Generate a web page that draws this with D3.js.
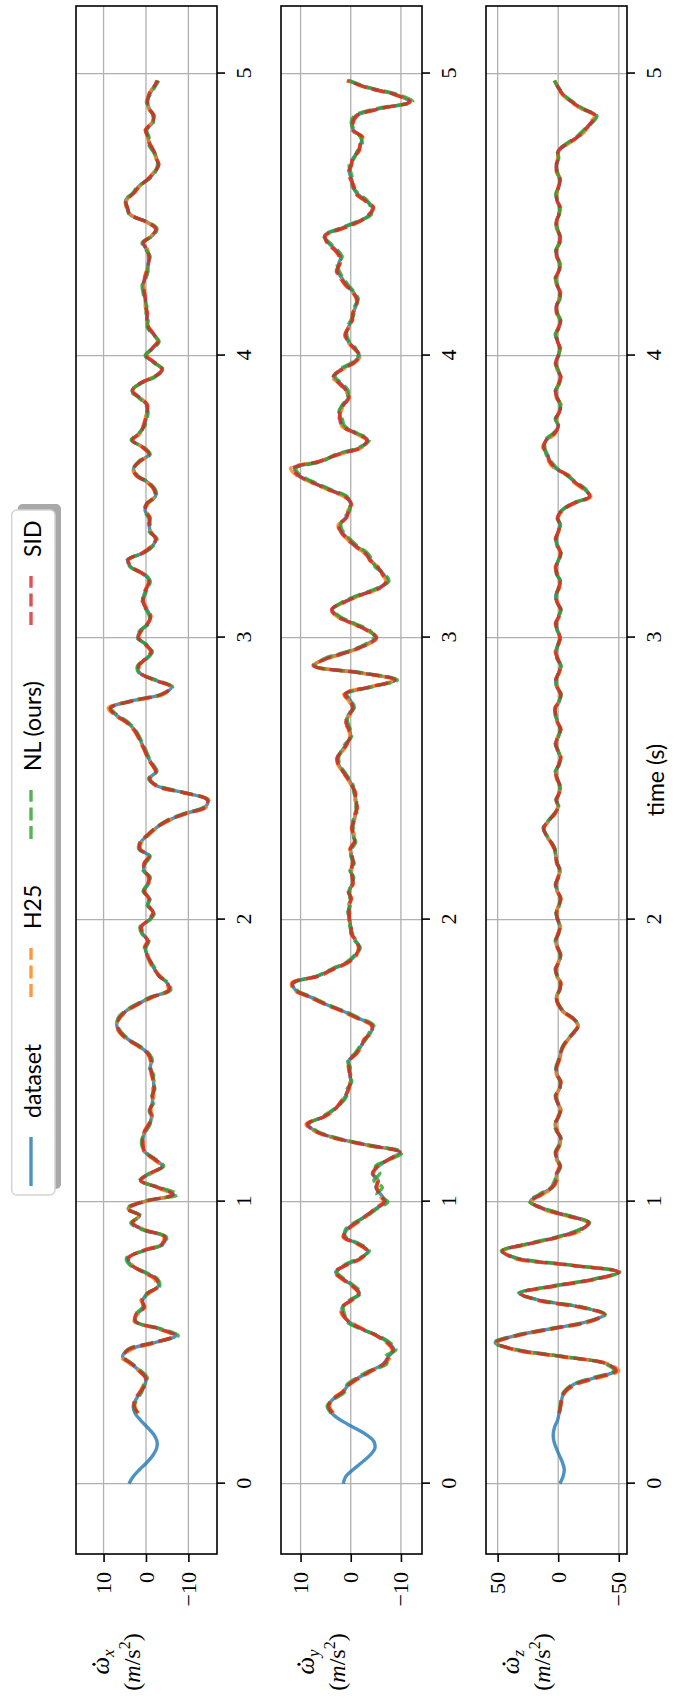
<!DOCTYPE html>
<html>
<head>
<meta charset="utf-8">
<script src="https://cdn.jsdelivr.net/npm/d3@7"></script>
<style>
  body { margin: 0; background: #fff; }
</style>
</head>
<body>
<div id="chart"></div>
<script>
// sampling of the recorded signals
const dt = 0.025;           // seconds between samples
const predStart = 10;       // model predictions begin at sample 10 (t = 0.25 s)
const timeTicks = [0, 1, 2, 3, 4, 5];

const seriesNames = ["dataset", "H25", "NL (ours)", "SID"];
const seriesColors = ["#1f77b4", "#ff7f0e", "#2ca02c", "#d62728"];

// ---- panel 1 : omega_dot x ----
const dataset_x = [4.0,3.0,1.5,-0.2,-1.6,-2.5,-2.6,-1.8,-0.3,1.3,
 2.6,3.0,2.3,1.2,0.3,0.0,1.5,3.5,5.5,4.0,
 -2.0,-7.0,-3.0,2.6,2.2,0.5,0.8,-0.5,-2.9,-2.5,
 0.5,3.5,4.3,0.8,-4.0,-4.5,0.5,3.3,1.5,4.2,
 0.5,-6.5,-3.0,1.2,-1.0,-3.9,-2.0,0.2,0.8,0.7,
 0.2,-0.8,-1.3,-1.0,-1.5,-1.6,-1.8,-1.8,-1.5,-1.0,
 -1.3,-0.5,1.5,4.2,6.0,6.9,6.4,4.8,2.0,-1.3,
 -5.5,-5.0,-3.2,-2.0,-1.0,-0.3,0.2,-0.5,0.8,1.2,
 -0.8,-1.8,-0.5,-0.8,0.5,-0.5,-0.8,0.5,0.3,-0.8,
 1.5,1.2,-0.5,-2.4,-5.0,-9.0,-14.0,-14.5,-9.0,-2.5,
 -0.8,-2.4,-1.5,-0.5,0.2,1.0,1.8,2.8,4.5,7.0,
 8.5,3.5,-4.0,-6.0,-2.0,1.5,1.8,0.0,-1.3,0.0,
 1.9,1.2,-0.5,-1.0,-0.2,0.7,0.5,-0.2,-0.8,0.5,
 3.5,4.3,0.7,-1.5,-2.4,-1.0,-0.8,-0.8,0.2,-0.3,
 -2.2,-2.0,-0.5,2.2,2.9,1.5,-0.8,0.7,3.3,1.5,
 0.5,0.0,-0.3,-0.2,1.5,3.3,1.5,-2.0,-3.9,-2.0,
 0.0,-1.5,-2.9,-1.8,-0.5,-0.3,-0.2,0.0,0.2,0.5,
 0.7,0.2,-0.3,-0.5,-0.8,-0.2,0.7,-1.5,-2.4,0.0,
 3.8,4.5,4.8,3.0,1.7,-0.5,-2.0,-2.9,-2.5,-1.8,
 -0.8,-0.5,0.0,-1.5,-1.8,-0.8,-0.3,-0.8,-1.8,-2.8];

const h25_x = [2.0,2.6,2.4,1.5,0.6,0.2,1.8,3.8,5.8,3.5,
 -2.5,-6.5,-2.5,2.8,2.0,0.2,1.2,-0.8,-2.6,-2.0,
 0.8,3.2,4.0,1.2,-3.6,-4.2,0.2,3.0,1.9,4.0,
 0.2,-6.0,-2.6,1.0,-1.3,-3.6,-1.7,0.4,0.6,0.5,
 0.4,-0.6,-1.5,-1.2,-1.3,-1.9,-1.6,-2.0,-1.2,-1.2,
 -1.0,-0.3,1.8,4.5,6.3,7.1,6.2,4.5,1.7,-1.6,
 -5.2,-4.8,-3.4,-1.8,-0.8,-0.5,0.4,-0.3,0.6,1.0,
 -0.6,-1.6,-0.7,-0.6,0.3,-0.7,-0.6,0.3,0.5,-0.6,
 1.3,1.0,-0.7,-2.6,-5.3,-9.4,-14.3,-14.8,-8.6,-2.2,
 -1.0,-2.2,-1.3,-0.3,0.4,1.2,2.0,3.1,4.8,7.4,
 8.9,3.0,-4.3,-5.7,-1.7,1.3,1.6,0.2,-1.1,0.2,
 1.7,1.0,-0.3,-1.2,-0.4,0.5,0.7,0.0,-0.6,0.7,
 3.3,4.1,0.9,-1.3,-2.2,-1.2,-0.6,-1.0,0.0,-0.5,
 -2.0,-1.8,-0.3,2.4,3.1,1.3,-0.6,0.9,3.1,1.3,
 0.7,0.2,-0.1,-0.4,1.3,3.1,1.7,-1.8,-3.7,-2.2,
 -0.2,-1.3,-2.7,-2.0,-0.7,-0.1,-0.4,0.2,0.0,0.3,
 0.5,0.4,-0.1,-0.7,-0.6,-0.4,0.5,-1.3,-2.2,0.2,
 3.6,4.7,4.6,2.8,1.5,-0.3,-1.8,-3.1,-2.3,-2.0,
 -1.0,-0.3,0.2,-1.3,-2.0,-0.6,-0.5,-0.6,-1.6,-2.6];

const nl_x = [2.3,2.8,2.0,1.0,0.5,-0.3,1.2,3.2,5.2,4.4,
 -1.5,-7.6,-3.4,2.4,2.5,0.8,0.5,-0.2,-3.2,-2.8,
 0.2,3.8,4.6,0.5,-4.3,-4.8,0.8,3.6,1.2,4.6,
 0.9,-7.5,-3.4,1.5,-0.7,-4.2,-2.3,0.0,1.0,0.9,
 0.0,-1.0,-1.1,-0.8,-1.8,-1.4,-2.1,-1.6,-1.8,-0.8,
 -1.5,-0.7,1.3,4.0,5.8,6.7,6.6,5.0,2.3,-1.0,
 -5.8,-5.3,-3.0,-2.2,-1.2,-0.1,0.0,-0.7,1.0,1.4,
 -1.0,-2.0,-0.3,-1.0,0.7,-0.3,-1.0,0.7,0.1,-1.0,
 1.7,1.4,-0.3,-2.2,-4.7,-8.7,-13.7,-14.6,-9.3,-2.8,
 -0.6,-2.6,-1.7,-0.7,0.0,0.8,1.6,2.6,4.2,6.7,
 8.2,3.8,-3.7,-6.3,-2.3,1.7,2.0,-0.2,-1.5,-0.2,
 2.1,1.4,-0.7,-0.8,0.0,0.9,0.3,-0.4,-1.0,0.3,
 3.7,4.5,0.5,-1.7,-2.6,-0.8,-1.0,-0.6,0.4,-0.1,
 -2.4,-2.2,-0.7,2.0,2.7,1.7,-1.0,0.5,3.5,1.7,
 0.3,-0.2,-0.5,0.0,1.7,3.5,1.3,-2.2,-4.1,-1.8,
 0.2,-1.7,-3.1,-1.6,-0.3,-0.5,0.0,-0.2,0.4,0.7,
 0.9,0.0,-0.5,-0.3,-1.0,0.0,0.9,-1.7,-2.6,-0.2,
 4.0,4.3,5.0,3.2,1.9,-0.7,-2.2,-2.7,-2.7,-1.6,
 -0.6,-0.7,-0.2,-1.7,-1.6,-1.0,-0.1,-1.0,-2.0,-3.0];

const sid_x = [1.8,2.8,2.6,1.4,0.2,0.1,1.6,3.4,5.4,4.2,
 -1.8,-6.8,-2.8,2.4,2.4,0.4,0.9,-0.4,-3.0,-2.4,
 0.6,3.4,4.1,0.9,-3.8,-4.4,0.4,3.2,1.6,4.4,
 0.6,-6.3,-2.8,1.3,-0.9,-3.8,-2.1,0.3,0.7,0.8,
 0.3,-0.7,-1.4,-0.9,-1.6,-1.5,-1.9,-1.7,-1.4,-1.1,
 -1.2,-0.4,1.6,4.3,6.1,6.8,6.3,4.7,1.9,-1.4,
 -5.4,-5.1,-3.1,-1.9,-1.1,-0.2,0.3,-0.4,0.7,1.1,
 -0.7,-1.7,-0.6,-0.7,0.4,-0.4,-0.7,0.4,0.4,-0.7,
 1.4,1.3,-0.4,-2.3,-4.9,-9.2,-14.2,-14.4,-8.8,-2.4,
 -0.9,-2.3,-1.4,-0.4,0.3,1.1,1.9,2.9,4.6,7.2,
 8.4,3.3,-3.9,-5.9,-1.9,1.4,1.7,0.1,-1.2,0.1,
 1.8,1.1,-0.4,-1.1,-0.1,0.6,0.6,-0.1,-0.7,0.6,
 3.4,4.2,0.8,-1.4,-2.3,-1.1,-0.7,-0.9,0.1,-0.2,
 -2.1,-1.9,-0.4,2.3,3.0,1.4,-0.7,0.8,3.2,1.4,
 0.6,0.1,-0.2,-0.3,1.4,3.2,1.6,-1.9,-3.8,-2.1,
 -0.1,-1.4,-2.8,-1.9,-0.6,-0.2,-0.3,0.1,0.1,0.4,
 0.6,0.3,-0.2,-0.6,-0.7,-0.3,0.6,-1.4,-2.3,0.1,
 3.7,4.4,4.7,2.9,1.6,-0.4,-1.9,-3.0,-2.4,-1.9,
 -0.9,-0.4,0.1,-1.4,-1.9,-0.7,-0.4,-0.7,-1.7,-2.7];

// ---- panel 2 : omega_dot y ----
const dataset_y = [1.5,1.0,-0.5,-2.2,-3.8,-4.8,-4.6,-3.0,-0.5,2.0,
 3.8,4.5,3.5,1.5,0.5,-1.5,-4.0,-6.5,-7.5,-8.6,
 -7.5,-5.2,-2.0,0.5,1.5,1.7,0.0,-1.7,-0.5,1.5,
 3.0,1.0,-2.0,-3.4,-1.5,1.3,0.8,-1.0,-3.0,-5.0,
 -6.9,-6.0,-5.0,-5.5,-4.3,-5.5,-7.5,-9.9,-3.5,3.0,
 7.0,8.6,5.5,3.4,2.0,1.0,0.5,0.0,0.2,0.3,
 0.4,-1.0,-2.0,-2.8,-4.0,-4.3,-1.5,1.5,5.0,8.0,
 11.0,11.5,6.5,3.5,0.5,-1.0,-1.7,-1.0,-0.2,0.0,
 0.2,0.4,0.3,0.0,0.4,-0.3,-0.4,0.0,-0.5,-0.2,
 0.0,-0.8,-0.5,-0.3,-0.6,-1.0,-1.2,-1.0,-0.8,-0.3,
 0.5,1.5,2.4,2.6,1.7,0.8,0.0,0.3,0.8,0.5,
 -0.5,0.0,1.0,-4.0,-8.9,-2.0,7.3,5.0,0.5,-3.0,
 -5.0,-3.5,-0.5,2.5,3.7,1.5,-1.7,-5.5,-7.3,-6.5,
 -5.2,-4.0,-3.0,-1.0,0.5,1.8,2.2,1.0,0.4,0.0,
 1.0,4.3,7.5,10.3,11.2,6.0,2.6,-2.0,-3.4,-1.0,
 1.5,2.0,2.2,1.5,0.5,0.8,2.0,3.4,2.0,-0.5,
 -1.7,-0.8,0.5,1.0,0.5,-0.2,-0.5,-1.0,-1.3,-0.5,
 0.8,1.8,2.6,2.4,2.0,3.0,4.5,5.2,2.0,-1.5,
 -3.8,-4.3,-3.0,-1.2,-0.5,-0.2,0.3,0.0,-0.5,-1.5,
 -2.0,-2.2,-0.5,-0.3,-1.0,-5.5,-11.6,-9.0,-3.4,0.5];

const h25_y = [3.4,4.2,3.6,1.8,0.3,-1.8,-4.3,-6.8,-7.9,-8.2,
 -7.1,-5.0,-2.3,0.2,1.8,1.9,-0.3,-1.5,-0.2,1.8,
 3.2,0.7,-2.3,-3.1,-1.2,1.6,0.5,-1.3,-3.3,-4.7,
 -6.5,-5.6,-5.3,-5.2,-4.6,-5.2,-7.8,-9.6,-3.1,3.4,
 7.3,8.9,5.3,3.2,2.2,1.2,0.3,0.2,0.0,0.5,
 0.2,-1.2,-2.2,-2.6,-4.3,-4.0,-1.2,1.8,5.3,8.3,
 11.3,11.8,6.2,3.2,0.2,-1.2,-1.5,-1.2,0.0,-0.2,
 0.4,0.2,0.5,-0.2,0.6,-0.5,-0.2,-0.2,-0.3,-0.4,
 0.2,-0.6,-0.7,-0.1,-0.8,-0.8,-1.4,-0.8,-1.0,-0.1,
 0.7,1.7,2.6,2.8,1.5,0.6,0.2,0.5,1.2,0.2,
 -0.3,0.4,1.4,-3.6,-8.6,-1.6,7.6,4.7,0.2,-3.3,
 -5.3,-3.2,-0.2,2.8,3.9,1.2,-2.0,-5.8,-7.0,-6.2,
 -5.5,-3.7,-2.7,-0.7,0.8,2.1,2.5,0.7,0.6,-0.2,
 1.4,4.7,7.9,10.8,12.0,6.4,2.3,-2.3,-3.1,-0.7,
 1.8,2.3,2.0,1.3,0.3,1.1,2.3,3.7,1.7,-0.8,
 -1.9,-0.6,0.7,1.2,0.3,-0.4,-0.3,-1.2,-1.1,-0.3,
 1.1,2.1,2.9,2.1,2.3,3.3,4.8,5.0,1.7,-1.8,
 -3.5,-4.6,-2.7,-0.9,-0.7,0.1,0.5,-0.2,-0.3,-1.7,
 -1.8,-2.4,-0.2,-0.5,-1.3,-5.8,-11.9,-8.7,-3.1,0.8];

const nl_y = [3.9,4.7,3.3,1.2,0.8,-1.2,-3.7,-7.2,-6.8,-9.0,
 -7.8,-5.5,-1.7,0.8,1.2,1.5,0.3,-2.0,-0.8,1.2,
 2.7,1.3,-1.7,-3.7,-1.8,1.0,1.1,-0.7,-3.3,-5.3,
 -7.4,-5.2,-6.3,-4.6,-5.8,-4.9,-8.0,-10.3,-3.8,2.6,
 6.7,8.3,5.8,3.6,1.8,0.8,0.7,-0.2,0.4,0.1,
 0.6,-0.8,-1.8,-3.0,-3.7,-4.6,-1.8,1.2,4.7,7.7,
 10.7,11.2,6.8,3.8,0.8,-0.8,-1.9,-0.8,-0.4,0.2,
 0.0,0.6,0.1,0.2,0.2,-0.1,-0.6,0.2,-0.7,0.0,
 -0.2,-1.0,-0.3,-0.5,-0.4,-1.2,-1.0,-1.2,-0.6,-0.5,
 0.3,1.3,2.2,2.4,1.9,1.0,-0.2,0.1,0.6,0.7,
 -0.7,-0.2,0.8,-4.3,-9.3,-2.4,7.0,5.3,0.8,-2.7,
 -4.7,-3.8,-0.8,2.2,3.5,1.8,-1.4,-5.2,-7.6,-6.8,
 -4.9,-4.3,-3.3,-1.3,0.2,1.5,2.0,1.3,0.2,0.2,
 0.7,4.0,7.2,10.0,10.9,5.7,2.9,-1.7,-3.7,-1.3,
 1.2,1.7,2.4,1.7,0.7,0.5,1.7,3.1,2.3,-0.2,
 -1.5,-1.0,0.3,0.8,0.7,0.0,-0.7,-0.8,-1.5,-0.7,
 0.5,1.5,2.3,2.7,1.7,2.7,4.2,5.4,2.3,-1.2,
 -4.1,-4.0,-3.3,-1.5,-0.3,-0.4,0.0,0.3,-0.7,-1.3,
 -2.3,-1.9,-0.8,-0.1,-0.7,-5.0,-12.4,-9.5,-3.7,0.3];

const sid_y = [3.6,4.4,3.6,1.6,0.4,-1.6,-4.1,-6.6,-7.6,-8.4,
 -7.3,-5.1,-2.1,0.4,1.6,1.8,-0.1,-1.6,-0.4,1.6,
 3.1,0.9,-2.1,-3.3,-1.4,1.4,0.7,-1.1,-3.1,-4.9,
 -6.7,-5.8,-5.1,-5.4,-4.4,-5.4,-7.6,-9.7,-3.3,3.2,
 7.1,8.7,5.4,3.3,2.1,1.1,0.4,0.1,0.1,0.4,
 0.3,-1.1,-2.1,-2.7,-4.1,-4.2,-1.4,1.6,5.1,8.1,
 11.1,11.6,6.4,3.4,0.4,-1.1,-1.6,-1.1,-0.1,-0.1,
 0.3,0.3,0.4,-0.1,0.5,-0.4,-0.3,-0.1,-0.4,-0.3,
 0.1,-0.7,-0.6,-0.2,-0.7,-0.9,-1.3,-0.9,-0.9,-0.2,
 0.6,1.6,2.5,2.7,1.6,0.7,0.1,0.4,1.0,0.3,
 -0.4,0.2,1.2,-3.8,-8.8,-1.8,7.5,4.8,0.3,-3.2,
 -5.2,-3.3,-0.3,2.7,3.8,1.3,-1.9,-5.7,-7.1,-6.3,
 -5.4,-3.8,-2.8,-0.8,0.7,2.0,2.4,0.8,0.5,-0.1,
 1.2,4.5,7.7,10.5,11.6,6.2,2.4,-2.2,-3.2,-0.8,
 1.7,2.2,2.1,1.4,0.4,0.9,2.2,3.5,1.8,-0.7,
 -1.8,-0.7,0.6,1.1,0.4,-0.3,-0.4,-1.1,-1.2,-0.4,
 1.0,2.0,2.8,2.2,2.2,3.2,4.7,5.1,1.8,-1.7,
 -3.6,-4.5,-2.8,-1.0,-0.6,0.0,0.4,-0.1,-0.4,-1.6,
 -1.9,-2.3,-0.3,-0.4,-1.2,-5.7,-11.8,-8.8,-3.2,0.7];

// ---- panel 3 : omega_dot z ----
const dataset_z = [-1.4,-4.0,-5.0,-3.5,-1.0,1.5,3.5,4.1,3.0,0.5,
 -0.8,-2.0,-3.0,-5.0,-12,-30,-47,-40,-5,35,
 52,35,5,-25,-38,-20,15,32,5,-30,
 -49,-10,35,46,25,0,-18,-25.5,-8,12,
 23,15,5,2,1,-1.5,1,2,-1,-2,
 1,2.5,0,-2,0.5,2,-1,-2,1,1.5,
 -0.5,-2,-4,-8,-13,-16.5,-12,-4,0,1.5,
 -1,-2,1,2,-0.5,-2,0.5,2,0,-1.5,
 0.5,1.5,-0.5,-2,0.5,2,0,-1.5,1,2,
 3,6,10,12,8,3,0,1.5,-1,-1.5,
 1,2,-0.5,-2,0.5,2,0,-2,0.5,2,
 2.5,-1,-2,1,2,-0.5,-2,0.5,2,0,
 -1.5,0.5,2,-0.5,-2,1,2,-0.5,-1.5,1,
 2,-0.5,-2,0.5,2,0,-1.5,0.5,-3,-12,
 -26,-22,-14,-8,2,7,9,12,10,3,
 0,2,-1,-2,1,2,-0.5,-2,0.5,2,
 0,-1.5,0.5,2,-0.5,-2,1,1.5,-1,-1.5,
 1,2,-0.5,-1.5,1,1.5,-1,-1.5,1,1.5,
 -0.5,-1.5,1,1.5,-0.5,-1.5,1,1.5,0,0,
 -7,-16,-22,-27,-31,-20,-11,-4,0,3];

const h25_z = [-0.5,-2,-3.5,-6,-14,-33,-50,-41,-3,37,
 50,33,3,-27,-37,-18,17,30,3,-32,
 -50,-8,37,45,23,-2,-20,-24,-6,14,
 22,13,4,1,2,-1,1.5,1.5,-1.5,-1.5,
 0.5,2,0.5,-2.5,1,1.5,-0.5,-2.5,1.5,1,
 -1,-2.5,-4.5,-8.5,-13.5,-16,-11,-3.5,0.5,1,
 -0.5,-2.5,1.5,1.5,0,-2.5,1,1.5,0.5,-2,
 1,1,0,-2.5,1,1.5,0.5,-2,1.5,1.5,
 3.5,6.5,10.5,11.5,7.5,2.5,0.5,1,-0.5,-2,
 1.5,1.5,0,-2.5,1,1.5,0.5,-2.5,1,1.5,
 3,-1.5,-1.5,0.5,2.5,-1,-1.5,0,2.5,-0.5,
 -1,0,2.5,-1,-1.5,0.5,2.5,-1,-1,0.5,
 2.5,-1,-1.5,0,2.5,-0.5,-1,0,-3.5,-13,
 -27,-21,-13,-9,3,8,8,13,9,2,
 0.5,1.5,-0.5,-2.5,1.5,1.5,0,-2.5,1,1.5,
 0.5,-2,1,1.5,0,-2.5,1.5,1,-0.5,-2,
 1.5,1.5,0,-2,1.5,1,-0.5,-2,1.5,1,
 0,-2,1.5,1,0,-2,1.5,1,0.5,-0.5,
 -8,-17,-23,-26,-30,-19,-10,-3.5,0.5,2.5];

const nl_z = [-1,-1.5,-2.5,-4.5,-11,-28,-46,-39,-6,34,
 53,36,6,-24,-39,-21,14,33,6,-29,
 -51,-11,34,47,26,1,-17,-26,-9,11,
 24,16,6,3,0.5,-2,0.5,2.5,-0.5,-2.5,
 1.5,3,-0.5,-1.5,0,2.5,-1.5,-1.5,0.5,2,
 0,-1.5,-3.5,-7.5,-12.5,-17,-12.5,-4.5,-0.5,2,
 -1.5,-1.5,0.5,2.5,-1,-1.5,0,2.5,-0.5,-1,
 0,2,-1,-1.5,0,2.5,-0.5,-1,0.5,2.5,
 2.5,5.5,9.5,12.5,8.5,3.5,-0.5,2,-1.5,-1,
 0.5,2.5,-1,-1.5,0,2.5,-0.5,-1.5,0,2.5,
 2,-0.5,-2.5,1.5,1.5,0,-2.5,1,1.5,0.5,
 -2,1,1.5,0,-2.5,1.5,1.5,0,-2,1.5,
 1.5,0,-2.5,1,1.5,0.5,-2,1,-2.5,-11,
 -25,-23,-15,-7,1,6,10,11,11,4,
 -0.5,2.5,-1.5,-1.5,0.5,2.5,-1,-1.5,0,2.5,
 -0.5,-1,0,2.5,-1,-1.5,0.5,2,-1.5,-1,
 0.5,2.5,-1,-1,0.5,2,-1.5,-1,0.5,2,
 -1,-1,0.5,2,-1,-1,0.5,2,-0.5,0.5,
 -6,-15,-21,-28,-32,-21,-12,-4.5,-0.5,3.5];

const sid_z = [-0.8,-2,-3,-5.5,-13,-31,-48,-40,-4,36,
 51,34,4,-26,-38,-19,16,31,4,-31,
 -50,-9,36,46,24,-1,-19,-25,-7,13,
 22,14,5,1.5,1.5,-1.5,1,2,-1,-2,
 1,2.5,0,-2,0.5,2,-1,-2,1,1.5,
 -0.5,-2,-4,-8,-13,-16.5,-12,-4,0,1.5,
 -1,-2,1,2,-0.5,-2,0.5,2,0,-1.5,
 0.5,1.5,-0.5,-2,0.5,2,0,-1.5,1,2,
 3,6,10,12,8,3,0,1.5,-1,-1.5,
 1,2,-0.5,-2,0.5,2,0,-2,0.5,2,
 2.5,-1,-2,1,2,-0.5,-2,0.5,2,0,
 -1.5,0.5,2,-0.5,-2,1,2,-0.5,-1.5,1,
 2,-0.5,-2,0.5,2,0,-1.5,0.5,-3,-12,
 -26,-22,-14,-8,2,7,9,12,10,3,
 0,2,-1,-2,1,2,-0.5,-2,0.5,2,
 0,-1.5,0.5,2,-0.5,-2,1,1.5,-1,-1.5,
 1,2,-0.5,-1.5,1,1.5,-1,-1.5,1,1.5,
 -0.5,-1.5,1,1.5,-0.5,-1.5,1,1.5,0,0,
 -7,-16,-22,-27,-31,-20,-11,-4,0,3];

const panels = [
  { sub: "x", series: [dataset_x, h25_x, nl_x, sid_x], domain: [-16.75, 16.5], ticks: [-10, 0, 10] },
  { sub: "y", series: [dataset_y, h25_y, nl_y, sid_y], domain: [-14.2, 13.9], ticks: [-10, 0, 10] },
  { sub: "z", series: [dataset_z, h25_z, nl_z, sid_z], domain: [-56.8, 59.6], ticks: [-50, 0, 50] }
];

// The figure is drawn in landscape (1705 x 678) and turned a quarter turn onto the page
const W = 1705;
const svg = d3.select("#chart").append("svg")
    .attr("width", 678)
    .attr("height", 1705);
const root = svg.append("g").attr("transform", `translate(0,${W}) rotate(-90)`);

const left = 151, right = 1699;
const panelTop = [76, 281, 486];
const panelH = 141;
const serifFont = "'Liberation Serif', 'DejaVu Serif', serif";
const sansFont = "Lato, 'Open Sans', sans-serif";

const x = d3.scaleLinear().domain([-0.2495, 5.2395]).range([left, right]);

panels.forEach((p, k) => {
    const top = panelTop[k];
    const bottom = top + panelH;
    const y = d3.scaleLinear().domain(p.domain).range([bottom, top]);
    const g = root.append("g");

    const clipId = "clip" + k;
    root.append("clipPath").attr("id", clipId)
      .append("rect")
        .attr("x", left).attr("y", top)
        .attr("width", right - left).attr("height", panelH);

    // grid
    g.selectAll(".tgrid").data(timeTicks).join("line")
        .attr("x1", d => x(d)).attr("x2", d => x(d))
        .attr("y1", top).attr("y2", bottom)
        .attr("stroke", "#b0b0b0").attr("stroke-width", 1.3);
    g.selectAll(".vgrid").data(p.ticks).join("line")
        .attr("x1", left).attr("x2", right)
        .attr("y1", d => y(d)).attr("y2", d => y(d))
        .attr("stroke", "#b0b0b0").attr("stroke-width", 1.3);

    // lines: dataset first, then the three models on top
    const line = d3.line()
        .x(d => x(d[0]))
        .y(d => y(d[1]))
        .curve(d3.curveCatmullRom);

    p.series.forEach((vals, s) => {
        const offset = s === 0 ? 0 : predStart;
        const pts = vals.map((v, i) => [(i + offset) * dt, v]);
        g.append("path")
            .attr("d", line(pts))
            .attr("clip-path", `url(#${clipId})`)
            .attr("fill", "none")
            .attr("stroke", seriesColors[s])
            .attr("stroke-opacity", 0.8)
            .attr("stroke-width", 3.4)
            .attr("stroke-linejoin", "round")
            .attr("stroke-dasharray", s === 0 ? null : "13,5.6");
    });

    // axes
    const yAxis = g.append("g")
        .attr("transform", `translate(${left},0)`)
        .call(d3.axisLeft(y).tickValues(p.ticks).tickSize(8).tickPadding(10));
    const xAxis = g.append("g")
        .attr("transform", `translate(0,${bottom})`)
        .call(d3.axisBottom(x).tickValues(timeTicks).tickSize(8).tickPadding(10).tickFormat(d3.format("d")));

    [yAxis, xAxis].forEach(a => {
        a.attr("font-family", null).attr("font-size", null);
        a.select(".domain").remove();
        a.selectAll(".tick line").attr("stroke", "#000").attr("stroke-width", 1.6);
        a.selectAll(".tick text")
            .attr("fill", "#000")
            .attr("font-family", serifFont)
            .attr("font-size", 22);
    });

    // frame
    g.append("rect")
        .attr("x", left).attr("y", top)
        .attr("width", right - left).attr("height", panelH)
        .attr("fill", "none").attr("stroke", "#000").attr("stroke-width", 1.6);

    // y label, two lines
    const labX = 43;
    const l1 = g.append("text")
        .attr("y", top + 33)
        .attr("font-family", serifFont)
        .attr("font-size", 25)
        .attr("font-style", "italic");
    l1.append("tspan").text("ω");
    l1.append("tspan").attr("font-size", 17).attr("dy", 5).text(p.sub);
    const w1 = l1.node().getComputedTextLength();
    const wOmega = l1.node().getSubStringLength(0, 1);
    const x1 = labX - w1 / 2;
    l1.attr("x", x1);
    g.append("circle")
        .attr("cx", x1 + wOmega / 2 + 1.5)
        .attr("cy", top + 33 - 15)
        .attr("r", 1.6)
        .attr("fill", "#000");

    const l2 = g.append("text")
        .attr("x", labX)
        .attr("y", top + 64)
        .attr("text-anchor", "middle")
        .attr("font-family", serifFont)
        .attr("font-size", 24);
    l2.append("tspan").text("(");
    l2.append("tspan").attr("font-style", "italic").text("m");
    l2.append("tspan").text("/s");
    l2.append("tspan").attr("font-size", 16).attr("dy", -10).text("2");
    l2.append("tspan").attr("dy", 10).text(")");
});

// x label
root.append("text")
    .attr("x", (left + right) / 2)
    .attr("y", 664)
    .attr("text-anchor", "middle")
    .attr("font-family", sansFont)
    .attr("font-size", 23)
    .text("time (s)");

// legend with shadow, centred on the figure
const legX = 510, legY = 11.7, legW = 685, legH = 43.3;
root.append("rect")
    .attr("x", legX + 6).attr("y", legY + 6)
    .attr("width", legW).attr("height", legH)
    .attr("rx", 5)
    .attr("fill", "#a9a9a9");
root.append("rect")
    .attr("x", legX).attr("y", legY)
    .attr("width", legW).attr("height", legH)
    .attr("rx", 5)
    .attr("fill", "#fff")
    .attr("stroke", "#d4d4d4")
    .attr("stroke-width", 1.5);

const legItemX = [519, 708, 866, 1080];
seriesNames.forEach((name, s) => {
    const lx = legItemX[s];
    root.append("line")
        .attr("x1", lx).attr("x2", lx + 49)
        .attr("y1", 31).attr("y2", 31)
        .attr("stroke", seriesColors[s])
        .attr("stroke-opacity", 0.8)
        .attr("stroke-width", 3.4)
        .attr("stroke-dasharray", s === 0 ? null : "13,5.6");
    root.append("text")
        .attr("x", lx + 68)
        .attr("y", 41)
        .attr("font-family", sansFont)
        .attr("font-size", 23)
        .text(name);
});
</script>
</body>
</html>
